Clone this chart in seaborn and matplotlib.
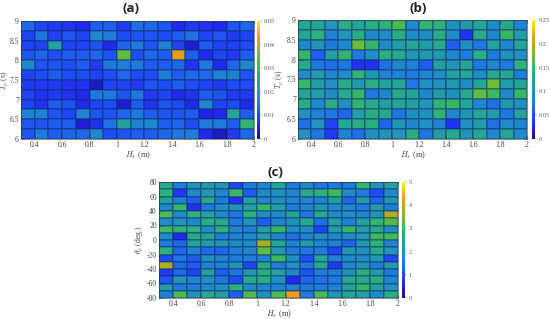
import numpy as np
import matplotlib
matplotlib.use("Agg")
import matplotlib.pyplot as plt
import seaborn as sns
from matplotlib.colors import LinearSegmentedColormap

plt.rcParams['font.family'] = ['Liberation Serif', 'DejaVu Serif']
plt.rcParams['mathtext.fontset'] = 'cm'

hs_ticks = [0.4, 0.6, 0.8, 1, 1.2, 1.4, 1.6, 1.8, 2]
tp_ticks = [6, 6.5, 7, 7.5, 8, 8.5, 9]
theta_ticks = [-80, -60, -40, -20, 0, 20, 40, 60, 80]

# rows run top to bottom
panel_a = [
    [13, 9, 8, 7, 6, 12, 12, 8, 14, 13, 11, 6, 8, 7, 6, 11, 13],
    [9, 15, 9, 11, 9, 18, 16, 10, 11, 11, 10, 12, 14, 9, 11, 8, 9],
    [9, 9, 24, 9, 9, 11, 6, 13, 16, 11, 17, 9, 4, 12, 9, 9, 10],
    [11, 13, 10, 12, 12, 13, 11, 34, 10, 13, 12, 42, 12, 6, 9, 8, 12],
    [18, 11, 11, 10, 12, 8, 15, 16, 16, 12, 12, 13, 7, 15, 6, 13, 18],
    [9, 10, 12, 10, 10, 9, 10, 13, 10, 10, 16, 12, 13, 13, 17, 17, 11],
    [8, 8, 8, 7, 7, 3, 9, 9, 8, 11, 10, 12, 10, 9, 8, 10, 10],
    [9, 7, 8, 7, 6, 15, 15, 11, 15, 8, 9, 6, 7, 12, 11, 8, 8],
    [9, 7, 12, 11, 6, 9, 10, 4, 12, 7, 11, 10, 6, 18, 9, 10, 6],
    [17, 17, 11, 9, 17, 11, 11, 13, 15, 12, 11, 11, 12, 5, 6, 25, 12],
    [11, 11, 12, 12, 4, 7, 14, 24, 17, 18, 12, 13, 10, 16, 16, 12, 29],
    [11, 16, 12, 13, 13, 18, 10, 11, 12, 12, 13, 15, 16, 6, 3, 8, 13],
]
panel_b = [
    [125, 125, 105, 135, 125, 135, 140, 160, 90, 145, 140, 100, 115, 125, 95, 130, 85],
    [125, 140, 85, 105, 135, 90, 95, 135, 95, 95, 135, 95, 35, 130, 90, 150, 115],
    [90, 105, 80, 90, 175, 145, 95, 115, 125, 115, 130, 60, 100, 75, 120, 90, 125],
    [150, 60, 120, 145, 80, 100, 135, 130, 105, 110, 110, 90, 80, 135, 75, 105, 100],
    [130, 75, 70, 75, 35, 35, 70, 90, 85, 60, 120, 105, 125, 75, 90, 80, 140],
    [95, 115, 90, 95, 145, 110, 85, 85, 80, 85, 95, 120, 125, 95, 130, 130, 80],
    [150, 115, 100, 135, 110, 135, 120, 125, 75, 100, 105, 110, 95, 125, 175, 115, 125],
    [125, 115, 95, 130, 150, 75, 90, 130, 125, 90, 115, 100, 130, 170, 155, 95, 150],
    [130, 95, 135, 100, 145, 130, 115, 125, 120, 105, 145, 150, 125, 90, 70, 110, 100],
    [100, 85, 75, 65, 115, 135, 130, 75, 100, 100, 145, 90, 105, 125, 115, 75, 120],
    [70, 105, 45, 125, 135, 135, 65, 105, 90, 100, 85, 35, 100, 115, 70, 95, 85],
    [105, 75, 40, 85, 70, 100, 105, 105, 135, 75, 115, 130, 105, 125, 90, 125, 90],
]
panel_c = [
    [2.6, 1.6, 2.1, 2.2, 2.2, 0.9, 1.6, 1.8, 2.5, 1.6, 1.8, 1.5, 1.5, 1.5, 2.9, 2.0, 2.4],
    [2.8, 0.8, 1.9, 2.2, 1.8, 3.0, 1.2, 1.9, 2.0, 1.8, 2.6, 2.8, 3.1, 1.9, 1.6, 1.0, 1.9],
    [2.4, 1.7, 1.2, 2.6, 1.6, 0.7, 2.4, 1.8, 2.0, 1.8, 1.7, 1.7, 2.4, 1.3, 2.3, 1.3, 2.2],
    [1.8, 3.0, 0.7, 1.5, 2.0, 2.1, 2.4, 3.0, 2.4, 1.6, 1.8, 2.2, 1.9, 1.8, 1.6, 2.3, 1.6],
    [3.2, 1.9, 2.8, 2.4, 1.9, 1.5, 2.8, 1.9, 1.9, 2.5, 1.5, 2.6, 1.9, 2.0, 1.8, 2.1, 3.9],
    [1.9, 2.1, 1.8, 2.7, 2.6, 1.6, 2.1, 1.2, 1.7, 2.0, 2.6, 1.4, 2.3, 1.7, 2.4, 2.9, 3.3],
    [3.1, 2.8, 2.8, 1.9, 2.8, 1.8, 1.6, 2.3, 3.0, 2.0, 2.0, 0.9, 2.3, 3.0, 2.3, 2.6, 2.0],
    [1.9, 0.6, 2.6, 2.5, 1.6, 1.7, 1.9, 2.3, 1.8, 1.4, 1.7, 2.0, 1.8, 1.9, 2.2, 3.1, 3.1],
    [1.5, 1.3, 2.5, 2.3, 2.2, 1.9, 1.9, 3.8, 2.5, 1.7, 2.3, 1.8, 1.7, 1.3, 2.2, 2.8, 1.8],
    [2.8, 1.3, 1.7, 1.3, 1.3, 1.6, 1.8, 3.4, 2.2, 1.6, 1.5, 1.6, 0.9, 2.2, 2.0, 2.6, 2.1],
    [1.0, 1.5, 1.2, 2.0, 1.8, 1.6, 1.6, 1.7, 3.1, 2.0, 1.0, 2.5, 1.7, 1.9, 1.9, 2.2, 0.9],
    [3.9, 1.3, 1.2, 1.7, 1.7, 2.1, 0.9, 2.6, 1.6, 2.0, 1.5, 2.6, 0.8, 1.8, 2.2, 1.6, 2.3],
    [0.8, 1.3, 0.9, 2.4, 1.2, 1.5, 2.2, 2.7, 2.4, 1.8, 1.1, 1.6, 1.6, 2.0, 2.7, 2.3, 1.6],
    [1.1, 2.1, 1.7, 2.0, 1.5, 1.0, 2.6, 2.7, 2.0, 0.6, 1.3, 1.4, 1.6, 2.6, 2.6, 2.7, 1.8],
    [2.3, 1.6, 1.6, 1.8, 2.0, 2.8, 1.9, 1.8, 1.7, 1.7, 1.6, 1.6, 1.7, 2.5, 3.0, 2.4, 2.0],
    [1.7, 3.2, 2.1, 2.6, 2.3, 1.2, 3.3, 2.0, 3.2, 4.3, 1.6, 3.2, 2.2, 2.5, 2.4, 1.9, 2.7],
]

cmap = LinearSegmentedColormap.from_list("parula_ish", [
    (0.0, "#14107e"), (0.1, "#2222ee"), (0.2, "#1e4cf5"), (0.3, "#1f78e0"),
    (0.4, "#2090c0"), (0.5, "#25a596"), (0.6, "#34b868"), (0.7, "#6cbc3c"),
    (0.8, "#c0a820"), (0.86, "#f09a20"), (1.0, "#f8f020"),
])

W, H = 550, 319


def box(x0, y0, x1, y1):
    return [x0 / W, 1 - y1 / H, (x1 - x0) / W, (y1 - y0) / H]


def panel(data, vmax, cbar_ticks, cbar_labels, yticks, ylow, yhigh, ylabel, title, pos, cpos, tx, ty, yoff):
    ax = fig.add_axes(box(*pos))
    cax = fig.add_axes(box(*cpos))
    sns.heatmap(np.array(data), ax=ax, cbar_ax=cax, cmap=cmap, vmin=0, vmax=vmax,
                linewidths=0.3, linecolor=(0.05, 0.15, 0.35, 0.3),
                xticklabels=False, yticklabels=False)
    nrows = len(data)
    ax.set_xticks([(v - 0.3) / 0.1 for v in hs_ticks])
    ax.set_xticklabels([f"{v:g}" for v in hs_ticks])
    ax.set_yticks([(yhigh - v) / (yhigh - ylow) * nrows for v in yticks])
    ax.set_yticklabels([f"{v:g}" for v in yticks], rotation=0)
    ax.tick_params(length=2, width=0.4, labelsize=5.5, pad=1.5, colors="#444444",
                   top=True, right=True, direction="in")
    ax.set_xlabel(r"$H_s$ (m)", fontsize=6, labelpad=0, color="#444444")
    ax.set_ylabel(ylabel, fontsize=5.5, color="#444444")
    ax.yaxis.set_label_coords(-yoff / (pos[2] - pos[0]), 0.5)
    for s in ax.spines.values():
        s.set_visible(True)
        s.set_linewidth(0.4)
        s.set_color("#333333")
    cax.set_yticks(cbar_ticks)
    cax.set_yticklabels(cbar_labels)
    cax.tick_params(length=1.5, width=0.3, labelsize=4.5, pad=1, colors="#555555")
    fig.text(tx / W, 1 - ty / H, title, fontsize=9.5, ha="center", va="center",
             family="Open Sans", color="#222222", fontweight="bold")


fig = plt.figure(figsize=(5.5, 3.19), dpi=100)

panel(np.array(panel_a) / 1000, 0.05, [0, 0.01, 0.02, 0.03, 0.04, 0.05],
      ["0", "0.01", "0.02", "0.03", "0.04", "0.05"], tp_ticks, 6, 9, r"$T_p$ (s)", "(a)",
      (21, 21, 254, 139), (257, 21, 260, 139), 131, 9, 11)
panel(np.array(panel_b) / 1000, 0.25, [0, 0.05, 0.1, 0.15, 0.2, 0.25],
      ["0", "0.05", "0.1", "0.15", "0.2", "0.25"], tp_ticks, 6, 9, r"$T_p$ (s)", "(b)",
      (298, 20, 527, 139), (532, 20, 535, 139), 418, 9, 13)
panel(panel_c, 5, [0, 1, 2, 3, 4, 5], ["0", "1", "2", "3", "4", "5"],
      theta_ticks, -80, 80, r"$\theta_p$ (deg.)", "(c)",
      (159, 182, 398, 298), (402, 182, 405, 298), 275, 172, 14)

fig.savefig("out.png", dpi=100)
